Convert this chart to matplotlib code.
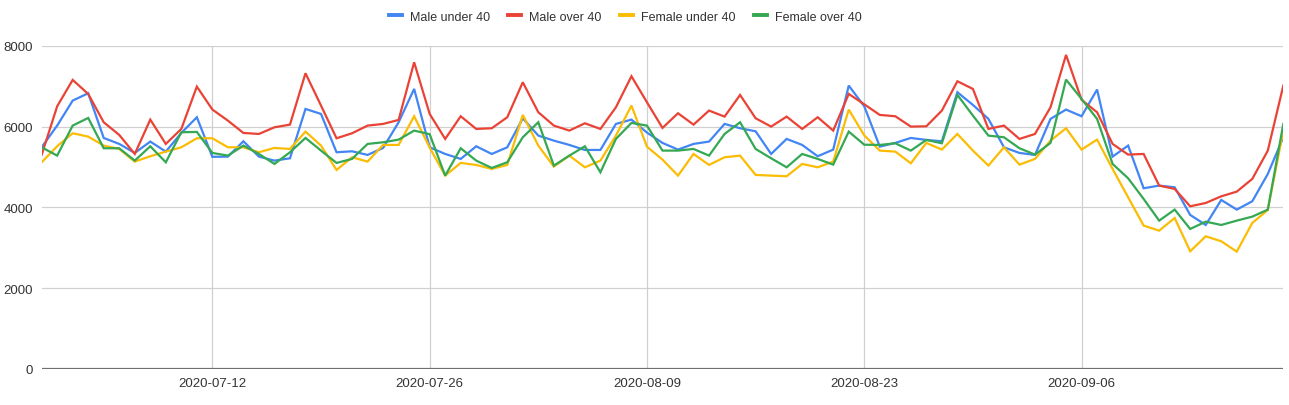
import matplotlib
matplotlib.use("Agg")
import matplotlib.pyplot as plt
import matplotlib.dates as mdates
import pandas as pd

plt.rcParams['font.family'] = ['Liberation Sans', 'DejaVu Sans']

dates = pd.date_range("2020-07-01", "2020-09-19", freq="D")
tick_dates = ["2020-07-12", "2020-07-26", "2020-08-09", "2020-08-23", "2020-09-06"]
y_ticks = [0, 2000, 4000, 6000, 8000]

male_under_40 = [5486, 6023, 6641, 6823, 5717, 5569, 5346, 5627, 5379, 5841, 6229, 5250,
                 5255, 5635, 5255, 5156, 5214, 6435, 6311, 5363, 5387, 5297, 5470, 6105, 6930, 5486,
                 5321, 5198, 5511, 5321, 5486, 6204, 5775, 5651, 5544, 5420, 5420, 6064, 6171, 5850,
                 5594, 5429, 5569, 5627, 6064, 5957, 5882, 5321, 5693, 5544, 5264, 5429, 7013, 6500,
                 5503, 5594, 5717, 5668, 5635, 6848, 6534, 6188, 5486, 5346, 5297, 6188, 6419, 6254,
                 6914, 5255, 5528, 4472, 4538, 4496, 3812, 3564, 4183, 3944, 4150, 4826, 5734]
male_over_40 = [5297, 6500, 7153, 6806, 6105, 5792, 5321, 6171, 5569, 5940, 6988, 6420,
                6146, 5841, 5816, 5981, 6047, 7318, 6518, 5709, 5833, 6023, 6064, 6163, 7590, 6311,
                5693, 6254, 5940, 5957, 6229, 7095, 6353, 6023, 5899, 6080, 5940, 6476, 7244, 6600,
                5965, 6328, 6047, 6394, 6245, 6781, 6204, 5998, 6245, 5940, 6229, 5899, 6806, 6550,
                6287, 6254, 5998, 6006, 6394, 7120, 6930, 5940, 6023, 5693, 5816, 6476, 7772, 6660,
                6353, 5569, 5305, 5321, 4538, 4455, 4026, 4108, 4273, 4389, 4703, 5404, 7013]
female_under_40 = [5115, 5511, 5833, 5750, 5528, 5445, 5132, 5264, 5379, 5486, 5709, 5709,
                   5486, 5486, 5363, 5470, 5445, 5874, 5528, 4925, 5239, 5132, 5544, 5544, 6254, 5480,
                   4785, 5099, 5049, 4950, 5049, 6287, 5528, 5008, 5280, 4991, 5156, 5775, 6518, 5500,
                   5181, 4785, 5321, 5049, 5239, 5280, 4802, 4785, 4769, 5074, 4991, 5132, 6419, 5780,
                   5404, 5379, 5090, 5594, 5429, 5816, 5404, 5033, 5486, 5057, 5198, 5651, 5957, 5429,
                   5676, 4950, 4249, 3548, 3423, 3737, 2912, 3284, 3160, 2904, 3614, 3935, 5900]
female_over_40 = [5486, 5280, 6023, 6212, 5462, 5462, 5156, 5511, 5115, 5858, 5866, 5346,
                  5280, 5528, 5321, 5074, 5363, 5717, 5404, 5099, 5198, 5569, 5610, 5676, 5899, 5810,
                  4785, 5462, 5156, 4975, 5115, 5734, 6105, 5033, 5280, 5511, 4868, 5693, 6089, 6023,
                  5404, 5404, 5445, 5280, 5816, 6105, 5445, 5214, 4991, 5321, 5198, 5057, 5874, 5550,
                  5544, 5585, 5404, 5668, 5585, 6782, 6270, 5775, 5734, 5462, 5305, 5594, 7161, 6683,
                  6188, 5074, 4719, 4208, 3671, 3944, 3465, 3646, 3564, 3671, 3770, 3944, 6064]

series = [("Male under 40", male_under_40, "#4285F4"),
          ("Male over 40", male_over_40, "#EA4335"),
          ("Female under 40", female_under_40, "#FBBC04"),
          ("Female over 40", female_over_40, "#34A853")]

fig = plt.figure(figsize=(12.89, 4.06), dpi=100)
ax = fig.add_axes([0.0323, 0.0887, 0.9633, 0.7963])

for name, vals, col in series:
    ax.plot(dates, vals, color=col, lw=1.6, label=name, solid_joinstyle="miter")

ax.set_xlim(dates[0], dates[-1])
ax.set_ylim(0, 8000)
ax.set_yticks(y_ticks)
ax.set_xticks(pd.to_datetime(tick_dates))
ax.xaxis.set_major_formatter(mdates.DateFormatter("%Y-%m-%d"))
ax.grid(True, color="#d0d0d0", lw=0.9)
ax.set_axisbelow(True)
ax.axhline(0, color="#6f6f6f", lw=1.6, zorder=1)
for s in ax.spines.values():
    s.set_visible(False)
ax.tick_params(length=0, labelsize=9.5, labelcolor="#333333")
ax.tick_params(axis="y", pad=6)
ax.tick_params(axis="x", pad=6)

leg = fig.legend(loc="center", bbox_to_anchor=(0.485, 0.956), ncol=4, frameon=False,
                 fontsize=9, handlelength=1.05, handletextpad=0.65, columnspacing=1.45,
                 labelcolor="#333333")
for h in leg.get_lines():
    h.set_linewidth(2.8)

fig.savefig("out.png", dpi=100)
